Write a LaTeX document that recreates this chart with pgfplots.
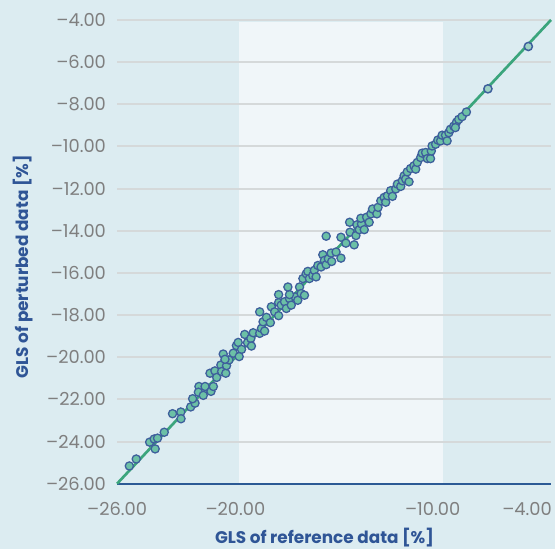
\documentclass[border=0pt]{standalone}
\usepackage{pgfplots}
\pgfplotsset{compat=1.18}
\usepackage{fontspec}
\setmainfont{Poppins}
\definecolor{bgcol}{HTML}{DCECF1}
\definecolor{bandcol}{HTML}{F0F6F9}
\definecolor{gridcol}{HTML}{D5D9DA}
\definecolor{linegreen}{HTML}{3BA57C}
\definecolor{mfill}{HTML}{6CC0A6}
\definecolor{mfilllight}{HTML}{9ED2C3}
\definecolor{medge}{HTML}{3E5F9C}
\definecolor{axisblue}{HTML}{2C5A95}
\definecolor{tickgray}{HTML}{7F7F7F}
\definecolor{labelblue}{HTML}{2F5596}
\begin{document}
\pagecolor{bgcol}
\begin{tikzpicture}
\begin{axis}[
  set layers,
  at={(0,0)}, anchor=south west,
  scale only axis, width=436bp, height=466bp,
  xmin=-26, xmax=-4, ymin=-26, ymax=-4,
  clip=false,
  axis x line*=bottom, axis y line*=left,
  x axis line style={draw=axisblue, line width=2.2bp},
  y axis line style={draw=none},
  major tick length=0pt,
  xtick={-26,-20,-10},
  xticklabels={–26.00,–20.00,–10.00},
  extra x ticks={-4},
  extra x tick labels={–4.00},
  extra x tick style={xticklabel style={anchor=east, xshift=1bp}},
  ytick={-26,-24,...,-4},
  yticklabels={–26.00,–24.00,–22.00,–20.00,–18.00,–16.00,–14.00,–12.00,–10.00,–8.00,–6.00,–4.00},
  xticklabel style={anchor=center, inner sep=0pt, yshift=-25bp, font=\fontsize{18}{21}\selectfont, color=tickgray},
  yticklabel style={anchor=east, inner sep=0pt, xshift=-11bp, font=\fontsize{18}{21}\selectfont, color=tickgray},
  ymajorgrids,
  major grid style={draw=gridcol, line width=2bp},
  xlabel={GLS of reference data [\%]},
  ylabel={GLS of perturbed data [\%]},
  xlabel style={at={(axis description cs:0.478,-0.1165)}, anchor=center, font=\bfseries\fontsize{17}{20}\selectfont, color=labelblue},
  ylabel style={at={(axis description cs:-0.2156,0.468)}, anchor=center, font=\bfseries\fontsize{17}{20}\selectfont, color=labelblue},
]
\addplot[on layer=axis background, draw=none, fill=bandcol] coordinates {(-19.8,-26) (-9.5,-26) (-9.5,-4.1) (-19.8,-4.1)} -- cycle;
\addplot[linegreen, line width=2.7bp] coordinates {(-26,-26) (-4,-4)};
\addplot[only marks, mark=*, mark size=4.1bp, mark options={fill=mfill, draw=medge, line width=1.3bp}] coordinates {
(-25.38,-25.16) (-25.03,-24.83) (-24.35,-24.03) (-24.12,-23.88) (-23.95,-23.84)
(-24.07,-24.35) (-23.61,-23.56) (-23.19,-22.68) (-22.77,-22.60) (-22.76,-22.92)
(-22.27,-22.36) (-22.05,-22.18) (-22.17,-21.97) (-21.63,-21.62)
(-21.85,-21.39) (-21.54,-21.39) (-21.88,-21.66) (-21.63,-21.81) (-21.24,-21.62)
(-21.12,-21.39) (-21.29,-20.76) (-21.04,-20.65) (-20.95,-20.96) (-20.74,-20.37)
(-20.62,-19.85) (-20.70,-20.68) (-20.49,-20.76) (-20.45,-20.40) (-20.33,-20.13)
(-20.53,-20.10) (-20.11,-19.81) (-19.95,-19.45) (-19.86,-19.30) (-19.69,-19.63)
(-19.81,-19.97) (-19.53,-18.92) (-19.39,-19.31) (-19.22,-19.11) (-19.19,-19.47)
(-19.10,-18.84) (-18.77,-18.87) (-18.68,-18.63) (-18.52,-18.76) (-18.60,-18.32)
(-18.43,-18.11) (-18.23,-18.36) (-18.77,-17.85) (-18.18,-17.61) (-18.01,-17.85)
(-17.81,-18.03) (-17.81,-17.41) (-17.68,-17.53) (-17.51,-17.37) (-17.42,-17.69)
(-17.26,-17.22) (-17.17,-17.53) (-16.97,-17.14) (-17.81,-17.03) (-17.26,-17.03)
(-16.84,-17.30)
(-16.75,-16.67) (-17.34,-16.67) (-16.67,-16.98) (-16.50,-17.06) (-16.58,-16.27)
(-16.41,-16.04) (-16.33,-15.93) (-16.25,-16.27) (-16.08,-16.12) (-16.00,-15.88)
(-15.91,-16.19) (-15.82,-15.65) (-15.66,-15.72) (-15.57,-15.14) (-15.49,-15.41)
(-15.40,-15.61) (-15.29,-15.33) (-15.15,-15.06) (-15.12,-15.46) (-14.90,-15.01)
(-14.65,-15.30) (-15.40,-14.26) (-14.65,-14.31) (-14.40,-14.59) (-14.19,-14.07)
(-14.21,-13.60) (-13.98,-14.67) (-13.89,-14.23) (-13.84,-13.72) (-13.72,-13.95)
(-13.61,-13.68) (-13.64,-13.41) (-13.47,-13.95) (-13.35,-13.36) (-13.22,-13.60)
(-13.13,-13.20) (-13.05,-12.97) (-12.83,-13.20) (-12.77,-12.89)
(-12.63,-12.58) (-12.46,-12.42) (-12.38,-12.65) (-12.29,-12.34) (-12.13,-12.10)
(-12.04,-12.37) (-11.87,-12.02) (-11.79,-11.79) (-11.62,-11.90) (-11.54,-11.63)
(-11.45,-11.40) (-11.37,-11.55) (-11.20,-11.68) (-11.29,-11.21) (-11.12,-11.05)
(-10.95,-10.92) (-10.86,-11.08) (-10.78,-10.76) (-10.61,-10.53) (-10.53,-10.32)
(-10.36,-10.29) (-10.27,-10.58) (-10.11,-10.58) (-10.07,-10.22) (-10.03,-9.98)
(-9.85,-9.90) (-9.74,-9.70) (-9.60,-9.74) (-9.52,-9.47) (-9.35,-9.47)
(-9.27,-9.74) (-9.18,-9.35) (-9.10,-9.19) (-8.93,-9.04) (-8.79,-8.85)
(-8.68,-8.72) (-8.85,-9.11) (-8.51,-8.59) (-8.29,-8.37)
};
\addplot[only marks, mark=*, mark size=4.1bp, mark options={fill=mfilllight, draw=medge, line width=1.5bp}] coordinates {
(-7.20,-7.27) (-5.15,-5.26)
};
\end{axis}
\pgfresetboundingbox
\path[use as bounding box] (-115bp,-66bp) rectangle (440bp,486bp);
\end{tikzpicture}
\end{document}
